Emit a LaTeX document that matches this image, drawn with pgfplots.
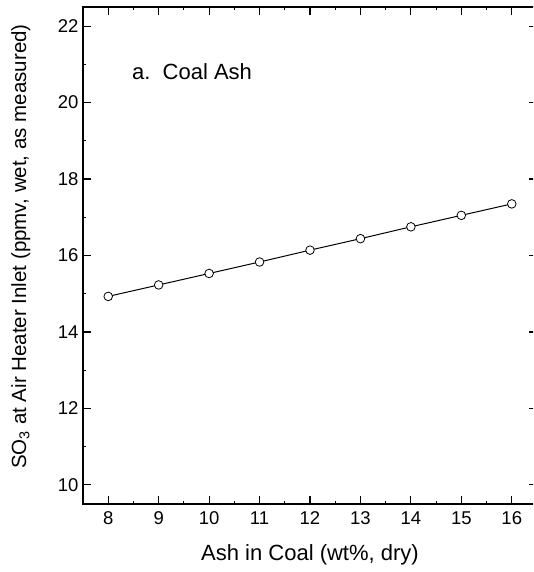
\documentclass[border=0pt]{standalone}
\usepackage{pgfplots}
\pgfplotsset{compat=1.18}
\usepackage{fontspec}
\setmainfont{Liberation Sans}
\begin{document}
\begin{tikzpicture}
\useasboundingbox (-83pt,-68pt) rectangle (450pt,504pt);
\clip (-83pt,-68pt) rectangle (450pt,504pt);
\begin{axis}[
  at={(0pt,0pt)}, anchor=south west,
  scale only axis,
  width=454pt, height=497pt,
  xmin=7.5, xmax=16.5, ymin=9.5, ymax=22.5,
  xtick={8,...,16}, ytick={10,12,...,22},
  minor x tick num=1, minor y tick num=1,
  tick align=inside,
  major tick length=8pt, minor tick length=3.5pt,
  tick style={black, line width=1.1pt},
  axis line style={line width=1.2pt},
  /pgf/number format/assume math mode=true,
  ticklabel style={font=\fontsize{18.5}{21}\selectfont},
  xticklabel style={yshift=-4pt},
  yticklabel style={xshift=-1pt},
  xlabel={Ash in Coal (wt\%, dry)},
  ylabel={SO\textsubscript{3} at Air Heater Inlet (ppmv, wet, as measured)},
  every axis x label/.style={at={([yshift=-37pt]axis description cs:0.5,0)}, anchor=north, font=\fontsize{22}{25}\selectfont},
  every axis y label/.style={at={([xshift=-49pt,yshift=9pt]axis description cs:0,0.5)}, rotate=90, anchor=south, font=\fontsize{20.5}{24}\selectfont},
]
\addplot[black, line width=1pt, mark=*, mark size=4.3pt, mark options={fill=white, draw=black, line width=0.8pt}] coordinates {
(8,14.93) (9,15.23) (10,15.53) (11,15.83) (12,16.14) (13,16.44) (14,16.75) (15,17.05) (16,17.35)
};
\node[anchor=west, inner sep=0pt, font=\fontsize{22}{26}\selectfont] at (axis cs:8.47,20.8) {a.\ \ Coal Ash};
\end{axis}
\end{tikzpicture}
\end{document}
